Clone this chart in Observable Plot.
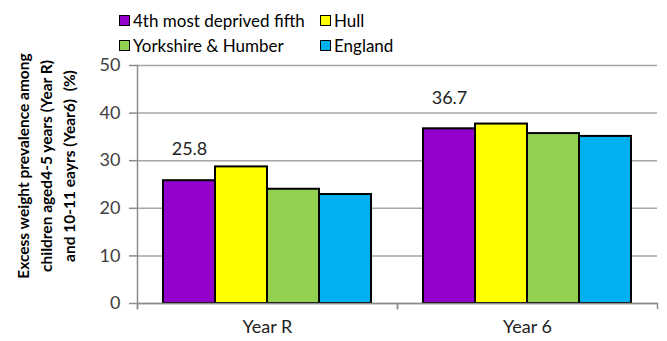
<!DOCTYPE html>
<html>
<head>
<meta charset="utf-8">
<script src="https://cdn.jsdelivr.net/npm/d3@7"></script>
<script src="https://cdn.jsdelivr.net/npm/@observablehq/plot@0.6"></script>
<style>
  html, body { margin: 0; padding: 0; background: #fff; }
  #wrap { position: relative; width: 667px; height: 341px; font-family: Lato, "Open Sans", sans-serif; }
  #legend { position: absolute; left: 0; top: 0; width: 667px; height: 60px; font-size: 17px; color: #000; }
  .item { position: absolute; display: flex; align-items: center; white-space: nowrap; }
  .sw { width: 9px; height: 9px; border: 1.5px solid #000; margin-right: 3px; }
  #ylabel { position: absolute; width: 280px; left: 46px; top: 166px; transform: translate(-50%, -50%) rotate(-90deg);
            text-align: center; font-weight: bold; font-size: 15.5px; line-height: 23px; white-space: pre; color: #000; }
  #chart { position: absolute; left: 0; top: 0; }
</style>
</head>
<body>
<div id="wrap">
  <div id="chart"></div>
  <div id="legend"></div>
  <div id="ylabel"></div>
</div>
<script>
const categories = ["Year R", "Year 6"];
const series = ["4th most deprived fifth", "Hull", "Yorkshire & Humber", "England"];
const deprivedValues = [25.8, 36.7];
const hullValues = [28.7, 37.7];
const yorkshireValues = [24.0, 35.7];
const englandValues = [22.9, 35.1];
const seriesColors = ["#9400cc", "#ffff00", "#92d050", "#00b0f0"];
const yTicks = [0, 10, 20, 30, 40, 50];
const yLabelLines = ["Excess weight prevalence among", "children aged4-5 years (Year R)", "and 10-11 eayrs (Year6)  (%)"];

const seriesValues = [deprivedValues, hullValues, yorkshireValues, englandValues];
const data = [];
categories.forEach((c, i) => {
  series.forEach((s, j) => data.push({group: c, series: s, value: seriesValues[j][i]}));
});
const labelData = data.filter(d => d.series === series[0]);

const chart = Plot.plot({
  width: 667,
  height: 341,
  marginLeft: 136,
  marginRight: 10,
  marginTop: 65,
  marginBottom: 38,
  style: { fontFamily: "Lato, 'Open Sans', sans-serif", background: "transparent", overflow: "visible" },
  fx: { domain: categories, padding: 0, label: null },
  x: { domain: series, padding: 0, insetLeft: 25, insetRight: 26, axis: null },
  y: { domain: [0, 50], ticks: yTicks, label: null },
  color: { domain: series, range: seriesColors },
  marks: [
    Plot.gridY(yTicks, { stroke: "#a6a6a6", strokeOpacity: 1, strokeWidth: 1.5 }),
    Plot.axisY(yTicks, { tickSize: 8, tickPadding: 9, fontSize: 18, stroke: "#8c8c8c", strokeWidth: 1.5, fill: "#404040", label: null }),
    Plot.frame({ anchor: "left", facet: "super", stroke: "#8c8c8c", strokeWidth: 1.5, insetBottom: -5 }),
    Plot.frame({ anchor: "left", stroke: "#8c8c8c", strokeWidth: 1.5, insetTop: 238, insetBottom: -5 }),
    Plot.frame({ anchor: "right", stroke: "#8c8c8c", strokeWidth: 1.5, insetTop: 238, insetBottom: -5 }),
    Plot.axisFx({ anchor: "bottom", tickSize: 0, tickPadding: 17, fontSize: 18, fill: "#222", label: null }),
    Plot.barY(data, { fx: "group", x: "series", y: "value", fill: "series", stroke: "#000", strokeWidth: 2 }),
    Plot.ruleY([0], { stroke: "#8c8c8c", strokeWidth: 1.5 }),
    Plot.text(labelData, { fx: "group", x: "series", y: "value", text: d => d.value.toFixed(1), dy: -31, fontSize: 18, fill: "#222" })
  ]
});
document.getElementById("chart").appendChild(chart);

// legend
const legendPos = [[119, 20], [320, 20], [119, 45], [320, 45]];
const legend = document.getElementById("legend");
series.forEach((s, i) => {
  const it = document.createElement("div");
  it.className = "item";
  it.style.left = legendPos[i][0] + "px";
  it.style.top = (legendPos[i][1] - 11) + "px";
  it.style.height = "22px";
  const sw = document.createElement("div");
  sw.className = "sw";
  sw.style.background = seriesColors[i];
  const tx = document.createElement("span");
  tx.textContent = s;
  it.appendChild(sw); it.appendChild(tx);
  legend.appendChild(it);
});
document.getElementById("ylabel").textContent = yLabelLines.join("\n");
</script>
</body>
</html>
